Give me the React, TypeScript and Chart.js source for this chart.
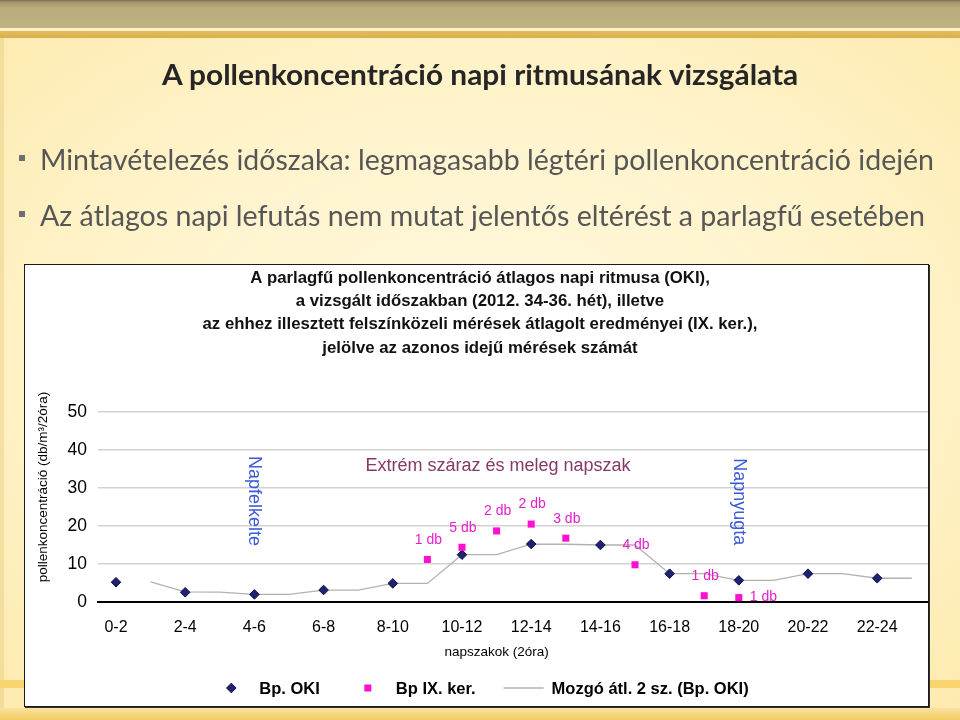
import React, { useEffect, useRef } from 'react';
import { Chart, registerables } from 'chart.js';

Chart.register(...registerables);

// ---------------- data ----------------
const categories = ['0-2', '2-4', '4-6', '6-8', '8-10', '10-12', '12-14', '14-16', '16-18', '18-20', '20-22', '22-24'];
const okiValues = [5.2, 2.55, 2.0, 3.15, 4.9, 12.45, 15.25, 15.0, 7.45, 5.7, 7.45, 6.25];

const ixPositions = [4.5, 5, 5.5, 6, 6.5, 7.5, 8.5, 9];
const ixValues = [11.2, 14.4, 18.7, 20.5, 16.8, 9.8, 1.65, 1.15];
const ixCounts = ['1 db', '5 db', '2 db', '2 db', '3 db', '4 db', '1 db', '1 db'];
const ixCountPlacement = ['above', 'above', 'above', 'above', 'above', 'above', 'above', 'right'];

const maPositions = [0.5, 1, 1.5, 2, 2.5, 3, 3.5, 4, 4.5, 5, 5.5, 6, 6.5, 7, 7.5, 8, 8.5, 9, 9.5, 10, 10.5, 11, 11.5];
const maValues = [5.3, 2.65, 2.6, 2.0, 2.0, 3.15, 3.15, 4.9, 4.9, 12.45, 12.45, 15.25, 15.2, 15.0, 15.0, 7.45, 7.45, 5.7, 5.7, 7.45, 7.45, 6.25, 6.25];

const yTicks = [0, 10, 20, 30, 40, 50];

const seriesNames = ['Bp. OKI', 'Bp IX. ker.', 'Mozgó átl. 2 sz. (Bp. OKI)'];

const chartTitle = [
  'A parlagfű pollenkoncentráció átlagos napi ritmusa (OKI),',
  'a vizsgált időszakban (2012. 34-36. hét), illetve',
  'az ehhez illesztett felszínközeli mérések átlagolt eredményei (IX. ker.),',
  'jelölve az azonos idejű mérések számát',
];
const yAxisTitle = 'pollenkoncentráció (db/m³/2óra)';
const xAxisTitle = 'napszakok (2óra)';

const annotations = [
  { text: 'Napfelkelte', x: 2.0, y: 26.6, rotate: true, color: '#3A5BD6' },
  { text: 'Napnyugta', x: 9.0, y: 26.4, rotate: true, color: '#3A5BD6' },
  { text: 'Extrém száraz és meleg napszak', x: 5.52, y: 35.8, rotate: false, color: '#853A6A' },
];

const slideTitle = 'A pollenkoncentráció napi ritmusának vizsgálata';
const bullets = [
  'Mintavételezés időszaka: legmagasabb légtéri pollenkoncentráció idején',
  'Az átlagos napi lefutás nem mutat jelentős eltérést a parlagfű esetében',
];

// ---------------- styles ----------------
const FF = '"Liberation Sans", Arial, sans-serif';
const OKI_FILL = '#1F2270';
const OKI_BORDER = '#0E0E48';
const IX_COLOR = '#FF10D0';
const IX_LABEL = '#E61ECC';
const MA_COLOR = '#B2B2B2';

let measureCtx: CanvasRenderingContext2D | null = null;
function measure(text: string, font: string) {
  if (!measureCtx) measureCtx = document.createElement('canvas').getContext('2d');
  measureCtx!.font = font;
  return measureCtx!.measureText(text).width;
}

function FitText(props: { text: string; font: string; width: number; left: number; top: number; color: string; height: number }) {
  const w = measure(props.text, props.font);
  const s = w > 0 ? props.width / w : 1;
  return (
    <div
      style={{
        position: 'absolute',
        left: props.left,
        top: props.top,
        height: props.height,
        lineHeight: props.height + 'px',
        whiteSpace: 'nowrap',
        font: props.font,
        color: props.color,
        transform: `scaleX(${s})`,
        transformOrigin: 'left center',
      }}
    >
      {props.text}
    </div>
  );
}

function drawDiamond(ctx: CanvasRenderingContext2D, x: number, y: number, r: number) {
  ctx.beginPath();
  ctx.moveTo(x, y - r);
  ctx.lineTo(x + r, y);
  ctx.lineTo(x, y + r);
  ctx.lineTo(x - r, y);
  ctx.closePath();
  ctx.fillStyle = OKI_FILL;
  ctx.fill();
  ctx.strokeStyle = OKI_BORDER;
  ctx.lineWidth = 1;
  ctx.stroke();
}

const overlayPlugin = {
  id: 'overlay',
  afterDraw(chart: any) {
    const ctx: CanvasRenderingContext2D = chart.ctx;
    const xs = chart.scales.x;
    const ys = chart.scales.y;
    const cx = 455;
    ctx.save();

    // chart title
    ctx.fillStyle = '#111';
    ctx.font = `bold 16.8px ${FF}`;
    ctx.textAlign = 'center';
    ctx.textBaseline = 'middle';
    chartTitle.forEach((line, i) => ctx.fillText(line, cx, 13 + i * 23.3));

    // y axis title
    ctx.save();
    ctx.translate(18, 222);
    ctx.rotate(-Math.PI / 2);
    ctx.font = `13.5px ${FF}`;
    ctx.fillStyle = '#000';
    ctx.fillText(yAxisTitle, 0, 0);
    ctx.restore();

    // x axis title
    ctx.font = `13.5px ${FF}`;
    ctx.fillStyle = '#000';
    ctx.fillText(xAxisTitle, xs.getPixelForValue(5.5), 387);

    // annotations
    annotations.forEach((a) => {
      const px = xs.getPixelForValue(a.x);
      const py = ys.getPixelForValue(a.y);
      ctx.save();
      ctx.translate(px, py);
      if (a.rotate) ctx.rotate(Math.PI / 2);
      ctx.font = `18px ${FF}`;
      ctx.fillStyle = a.color;
      ctx.textAlign = 'center';
      ctx.textBaseline = 'middle';
      ctx.fillText(a.text, 0, 0);
      ctx.restore();
    });

    // count labels
    ctx.font = `14px ${FF}`;
    ctx.fillStyle = IX_LABEL;
    ixPositions.forEach((p, i) => {
      const px = xs.getPixelForValue(p);
      const py = ys.getPixelForValue(ixValues[i]);
      if (ixCountPlacement[i] === 'right') {
        ctx.textAlign = 'left';
        ctx.fillText(ixCounts[i], px + 11, py);
      } else {
        ctx.textAlign = 'center';
        ctx.fillText(ixCounts[i], px + 1, py - 19.5);
      }
    });

    // legend
    ctx.font = `bold 16.5px ${FF}`;
    ctx.fillStyle = '#000';
    ctx.textAlign = 'left';
    const sym = 40, gap = 8, itemGap = 28;
    const widths = seriesNames.map((n) => measure(n, ctx.font));
    const total = widths.reduce((a, b) => a + b, 0) + seriesNames.length * (sym + gap) + (seriesNames.length - 1) * itemGap;
    let lx = cx - total / 2;
    const ly = 423;
    seriesNames.forEach((n, i) => {
      const mid = lx + sym / 2;
      if (i === 0) drawDiamond(ctx, mid, ly, 4.8);
      else if (i === 1) {
        ctx.fillStyle = IX_COLOR;
        ctx.fillRect(mid - 3.5, ly - 3.5, 7, 7);
      } else {
        ctx.strokeStyle = MA_COLOR;
        ctx.lineWidth = 1.3;
        ctx.beginPath();
        ctx.moveTo(lx, ly);
        ctx.lineTo(lx + sym, ly);
        ctx.stroke();
      }
      ctx.fillStyle = '#000';
      ctx.fillText(n, lx + sym + gap, ly + 1);
      lx += sym + gap + widths[i] + itemGap;
    });

    ctx.restore();
  },
};

function ChartBox() {
  const ref = useRef<HTMLCanvasElement | null>(null);
  useEffect(() => {
    if (!ref.current) return;
    const chart = new Chart(ref.current, {
      type: 'scatter',
      data: {
        datasets: [
          {
            label: seriesNames[0],
            data: okiValues.map((v, i) => ({ x: i, y: v })),
            pointStyle: 'rectRot',
            pointRadius: 4.8,
            backgroundColor: OKI_FILL,
            borderColor: OKI_BORDER,
            borderWidth: 1,
            showLine: false,
            order: 1,
          },
          {
            label: seriesNames[1],
            data: ixPositions.map((p, i) => ({ x: p, y: ixValues[i] })),
            pointStyle: 'rect',
            pointRadius: 5,
            backgroundColor: IX_COLOR,
            borderColor: IX_COLOR,
            borderWidth: 0,
            showLine: false,
            order: 0,
          },
          {
            label: seriesNames[2],
            data: maPositions.map((p, i) => ({ x: p, y: maValues[i] })),
            showLine: true,
            borderColor: MA_COLOR,
            borderWidth: 1.3,
            pointRadius: 0,
            tension: 0,
            order: 2,
          },
        ],
      } as any,
      options: {
        animation: false,
        responsive: false,
        maintainAspectRatio: false,
        events: [],
        layout: { autoPadding: false, padding: { top: 147, left: 0, right: 0, bottom: 0 } },
        plugins: { legend: { display: false }, title: { display: false }, tooltip: { enabled: false } },
        scales: {
          x: {
            type: 'linear',
            min: -0.26,
            max: 11.734,
            afterBuildTicks: (s: any) => {
              s.ticks = categories.map((_, i) => ({ value: i }));
            },
            afterFit: (s: any) => {
              s.height = 104;
              s.paddingLeft = 0;
              s.paddingRight = 0;
            },
            grid: { display: false, drawTicks: false },
            border: { display: true, color: '#000', width: 2 },
            ticks: {
              callback: (v: any) => categories[v] ?? '',
              font: { family: FF, size: 16 },
              color: '#000',
              padding: 16,
              maxRotation: 0,
              autoSkip: false,
            },
          },
          y: {
            min: 0,
            max: 50,
            afterBuildTicks: (s: any) => {
              s.ticks = yTicks.map((v) => ({ value: v }));
            },
            afterFit: (s: any) => {
              s.width = 73;
            },
            grid: { color: '#D2D2D2', lineWidth: 1.5, drawTicks: false },
            border: { display: false },
            ticks: { font: { family: FF, size: 17.5 }, color: '#000', padding: 11 },
          },
        },
      } as any,
      plugins: [overlayPlugin],
    });
    return () => chart.destroy();
  }, []);
  return <canvas ref={ref} width={903} height={441} style={{ position: 'absolute', left: 0, top: 0, width: 903, height: 441 }} />;
}

export default function App() {
  return (
    <div
      style={{
        position: 'fixed',
        left: 0,
        top: 0,
        width: 960,
        height: 720,
        overflow: 'hidden',
        background: 'radial-gradient(ellipse 75% 70% at 50% 50%, #FFF8DE 0%, #FFF3CA 55%, #FDE9AC 100%)',
      }}
    >
      {/* top bands */}
      <div style={{ position: 'absolute', left: 0, top: 0, width: 960, height: 28, background: 'linear-gradient(to bottom, #7A6C48 0px, #A3946A 2px, #BAAB7C 8px, #C0B183 28px)' }} />
      <div style={{ position: 'absolute', left: 0, top: 28, width: 960, height: 3, background: '#FFF2C6' }} />
      <div style={{ position: 'absolute', left: 0, top: 31, width: 960, height: 7, background: 'linear-gradient(to bottom, #E3BE5E, #D9AF4C)' }} />
      {/* side / bottom bands */}
      <div style={{ position: 'absolute', left: 0, top: 38, width: 4, height: 682, background: 'rgba(222,190,100,0.3)' }} />
      <div style={{ position: 'absolute', left: 0, top: 680, width: 960, height: 8, background: '#F8D56E' }} />
      <div style={{ position: 'absolute', left: 0, top: 708, width: 960, height: 12, background: 'linear-gradient(to bottom, #FBE2A0, #F2CB60)' }} />

      {/* slide title */}
      <FitText text={slideTitle} font={`bold 28px Lato, "Open Sans", sans-serif`} width={638} left={162} top={57} height={30} color="#262626" />

      {/* bullets */}
      {bullets.map((b, i) => (
        <React.Fragment key={i}>
          <div style={{ position: 'absolute', left: 19, top: 155 + i * 56, width: 6, height: 6, background: '#6F6F6F' }} />
          <FitText text={b} font={`28px Lato, "Open Sans", sans-serif`} width={i === 0 ? 894 : 885} left={40} top={142 + i * 56} height={32} color="#565656" />
        </React.Fragment>
      ))}

      {/* chart box */}
      <div
        style={{
          position: 'absolute',
          left: 24,
          top: 264,
          width: 905,
          height: 443,
          boxSizing: 'border-box',
          border: '1px solid #1A1A1A',
          boxShadow: '1px 1px 0 #333',
          background: '#FFFFFF',
        }}
      >
        <ChartBox />
      </div>
    </div>
  );
}
